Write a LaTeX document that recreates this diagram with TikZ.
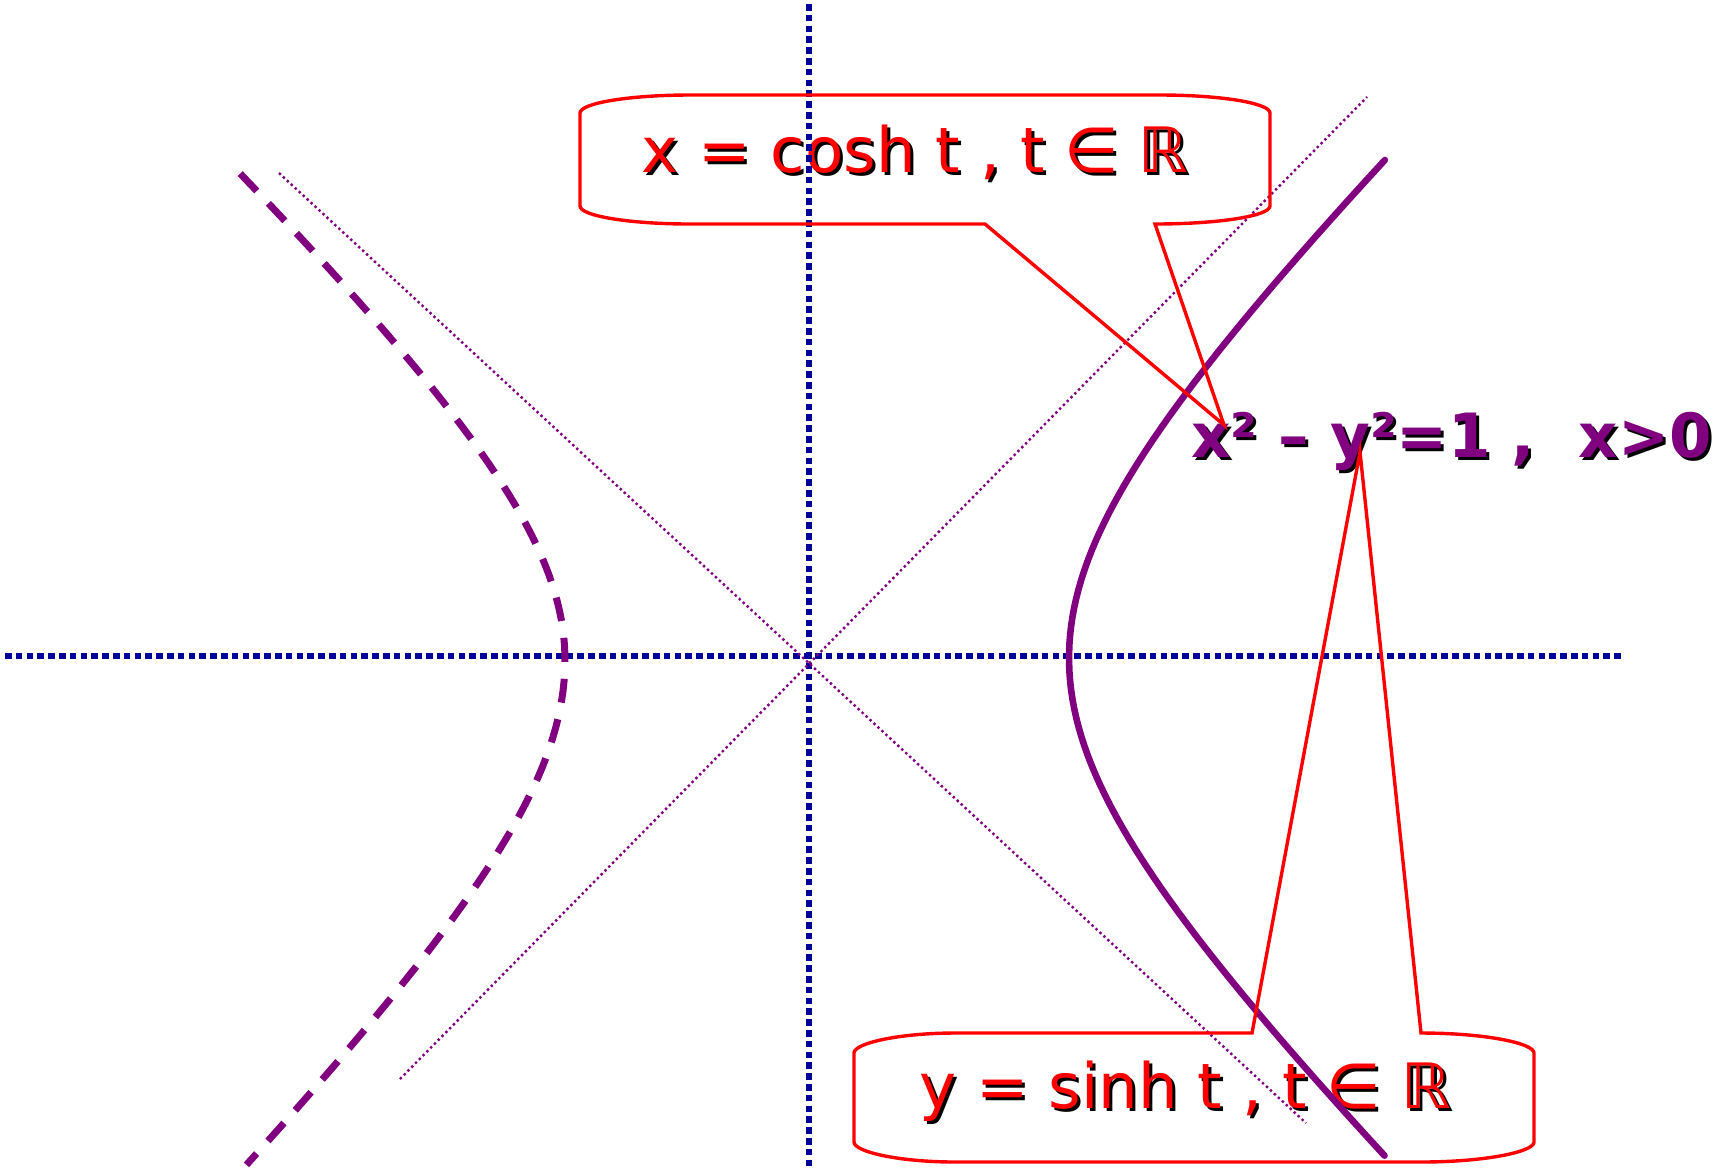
\documentclass[tikz,border=0pt]{standalone}
\usepackage{fontspec}
\setmainfont{DejaVu Sans}
\usepackage{tikz}
\definecolor{axisblue}{RGB}{0,0,153}
\definecolor{hyppurple}{RGB}{128,0,128}

\begin{document}
\begin{tikzpicture}[x=0.5pt,y=-0.5pt,
		axis/.style={line width=3pt, axisblue, dash pattern=on 3.3pt off 2.1pt},
		asym/.style={line width=1.2pt, hyppurple, dash pattern=on 1.2pt off 1.5pt},
		branch/.style={line width=3.3pt, hyppurple, line cap=round},
		callout/.style={red, line width=1.7pt, line join=miter},
		boxtext/.style={font=\fontsize{31.3}{37}\selectfont, inner sep=0pt, anchor=base},
		hyptext/.style={font=\fontsize{30.5}{36}\selectfont\bfseries, inner sep=0pt, anchor=base west}]
		
		\useasboundingbox (0,0) rectangle (1723,1175);
		
		\node[boxtext, black] (coshshadow) at (918,175) {x = cosh t , t ∈ ℝ};
		\node[boxtext, red] (cosh) at (915,172) {x = cosh t , t ∈ ℝ};
		\node[boxtext, black] (sinhshadow) at (1188,1111) {y = sinh t , t ∈ ℝ};
		\node[boxtext, red] (sinh) at (1185,1108) {y = sinh t , t ∈ ℝ};
		
		\draw[axis] (809,4) to (809,1168);
		\draw[axis] (5,656) to (1623,656);
		
		\draw[asym] (279,173) to (1306,1123);
		\draw[asym] (400,1079) to (1367,97);
		
		\draw[branch, line width=3.5pt, line cap=butt, dash pattern=on 12pt off 8.5pt]
			plot[domain=-1.49:1.478, samples=80, variable=\t] ({809-244*cosh(\t)}, {660+(\t<0 ? 231 : 243)*sinh(\t)});
		\draw[branch]
			plot[domain=-1.433:1.433, samples=80, variable=\t] ({809+260*cosh(\t)}, {658+252*sinh(\t)});
		
		\node[hyptext, black] (hypshadow) at (1194,460) {x² – y²=1 ,\hspace{0.72em}x>0};
		\node[hyptext, hyppurple] (hyp) at (1191,457) {x² – y²=1 ,\hspace{0.72em}x>0};
		
		\coordinate (tipcosh) at (1224,425);
		\coordinate (tipsinh) at (1360,452);
		
		\draw[callout] (690,95) -- (1160,95) .. controls (1220,95) and (1270,103) .. (1270,113)
			-- (1270,206) .. controls (1270,216) and (1218,224) .. (1155,224)
			-- (tipcosh) -- (985,224) -- (690,224)
			.. controls (630,224) and (580,216) .. (580,206) -- (580,113)
			.. controls (580,103) and (630,95) .. cycle;
		
		\draw[callout] (955,1033) -- (1252,1033) -- (tipsinh) -- (1421,1033)
			.. controls (1484,1033) and (1534,1043) .. (1534,1053) -- (1534,1142)
			.. controls (1534,1152) and (1484,1162) .. (1421,1162) -- (955,1162)
			.. controls (900,1162) and (854,1152) .. (854,1142) -- (854,1053)
			.. controls (854,1043) and (900,1033) .. cycle;
	\end{tikzpicture}
\end{document}
